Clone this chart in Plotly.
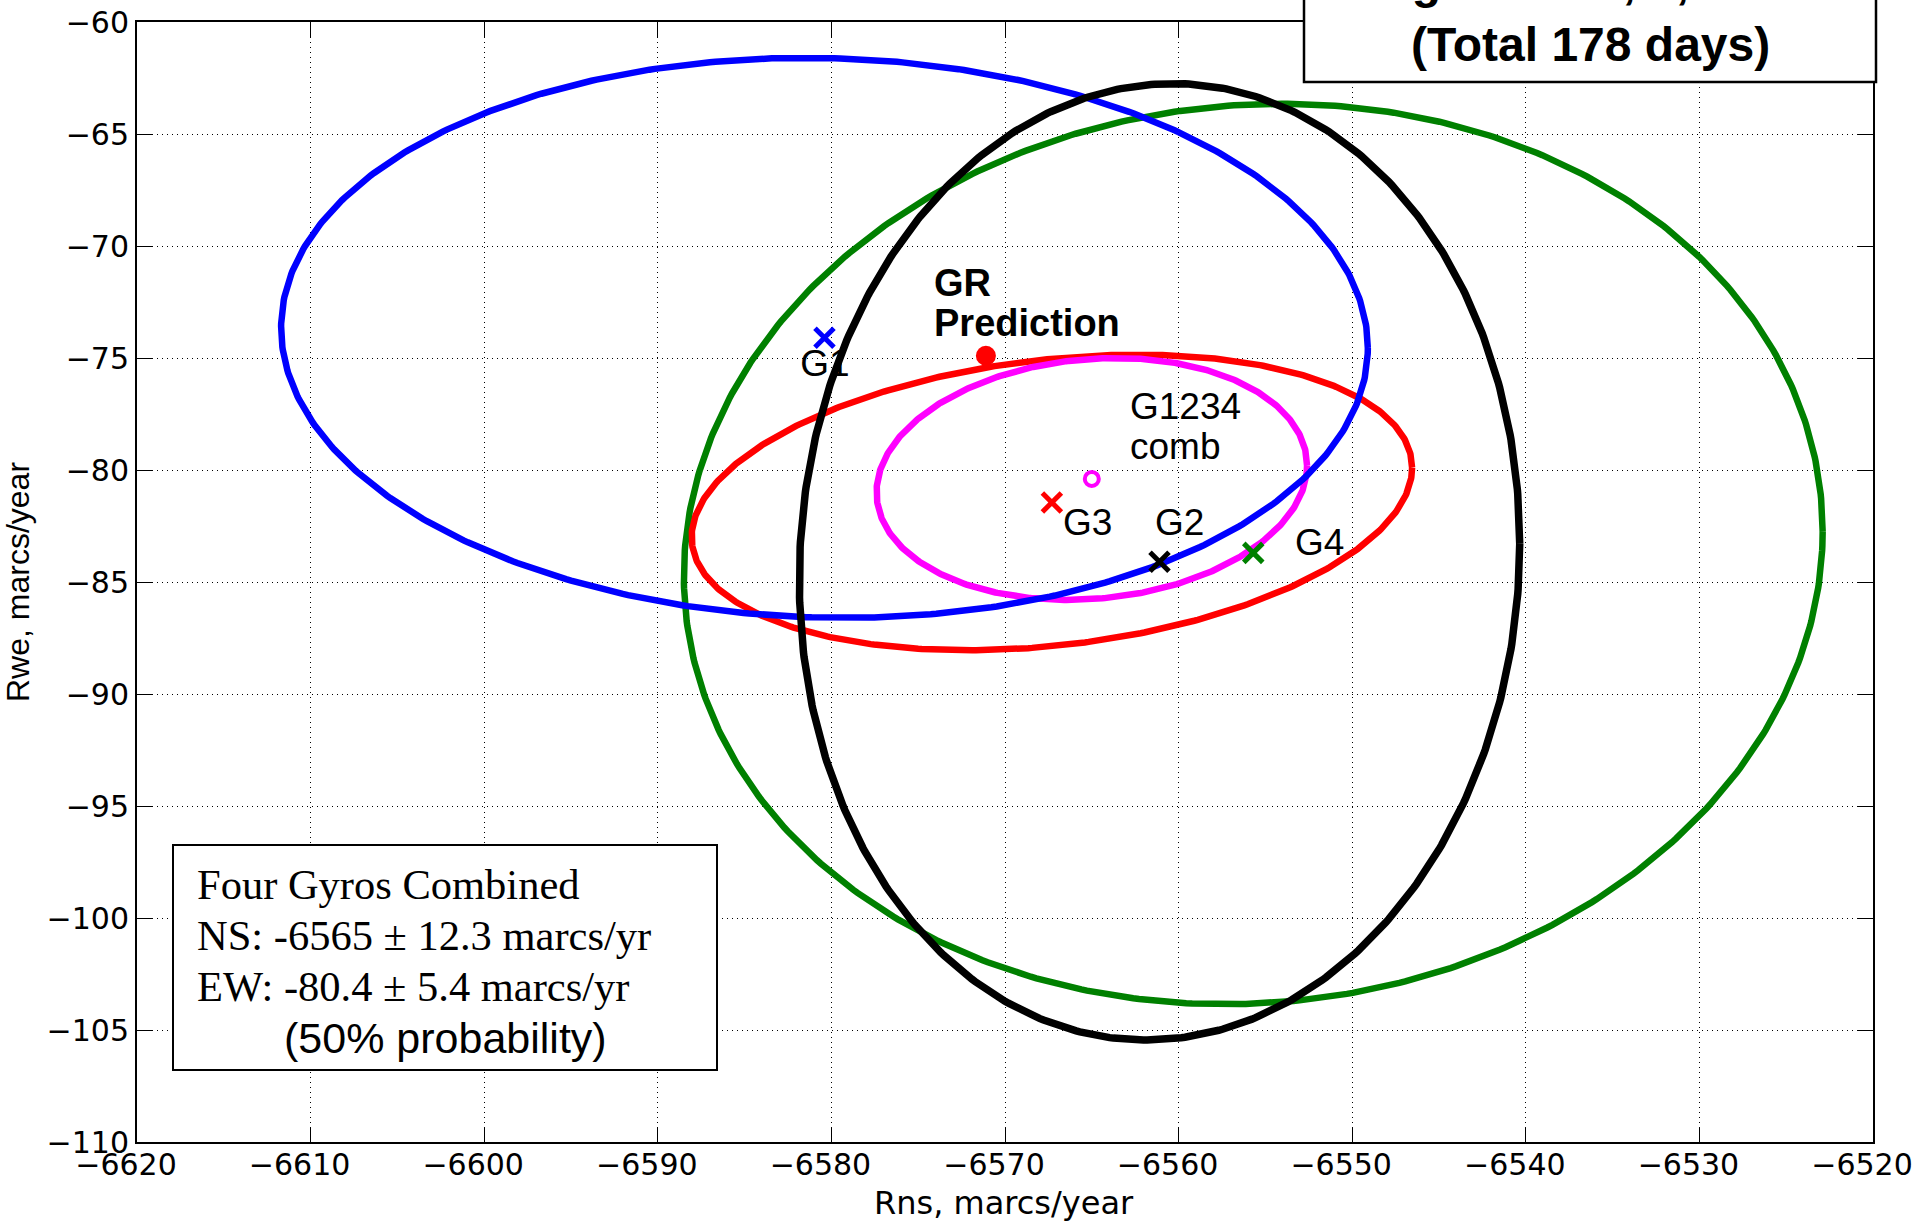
import numpy as np
import plotly.graph_objects as go

# ---- error ellipses (50% probability) ----
ell_names = ["G4", "G3", "G1234 comb", "G1", "G2"]
ell_colors = ["#008000", "#ff0000", "#ff00ff", "#0000ff", "#000000"]
ell_cx = [-6555.7, -6567.3, -6565.0, -6580.4, -6561.1]   # centre, Rns
ell_cy = [-83.75, -81.45, -80.4, -74.1, -84.1]           # centre, Rwe
ell_a = [32.8, 20.75, 12.4, 31.3, 20.75]                 # half extent in Rns
ell_h = [20.1, 6.6, 5.4, 12.5, 21.35]                    # half extent in Rwe
ell_k = [1.0, 1.55, 0.6, -0.45, 0.8]                     # Rwe offset at Rns extremes (tilt)

# ---- point estimates ----
gyro_labels = ["G1", "G2", "G3", "G4"]
gyro_ns = [-6580.4, -6561.1, -6567.3, -6555.7]
gyro_ew = [-74.1, -84.1, -81.45, -83.7]
gyro_colors = ["#0000ff", "#000000", "#ff0000", "#008000"]
comb_ns, comb_ew = -6565.0, -80.4
gr_ns, gr_ew = -6571.1, -74.9

x_ticks = list(range(-6620, -6519, 10))
y_ticks = list(range(-110, -59, 5))

FONT = "Liberation Sans, Arial, Helvetica, sans-serif"
SERIF = "Liberation Serif, Times New Roman, serif"
WIDE = "DejaVu Sans, Verdana, sans-serif"

# pixel geometry of the plot area
PX0, PX1, PY0, PY1 = 137, 1873, 22, 1142


def px(sx):
    return (sx - PX0) / (PX1 - PX0)


def py(sy):
    return (PY1 - sy) / (PY1 - PY0)


fig = go.Figure()
t = np.linspace(0, 2 * np.pi, 600)


def add_ellipse(i, width):
    b = np.sqrt(ell_h[i] ** 2 - ell_k[i] ** 2)
    x = ell_cx[i] + ell_a[i] * np.cos(t)
    y = ell_cy[i] + b * np.sin(t) + ell_k[i] * np.cos(t)
    fig.add_trace(go.Scatter(x=x, y=y, mode="lines", name=ell_names[i],
                             line=dict(color=ell_colors[i], width=width),
                             hoverinfo="skip", showlegend=False))


add_ellipse(0, 6.5)   # green
add_ellipse(1, 6.5)   # red
add_ellipse(2, 6.5)   # magenta
add_ellipse(3, 6.5)   # blue

LAB = 37
# G1 label sits under the black ellipse
fig.add_trace(go.Scatter(x=[-6581.8], y=[-75.38], mode="text", text=["G1"],
                         textposition="middle right",
                         textfont=dict(family=FONT, size=LAB, color="black"),
                         showlegend=False, hoverinfo="skip"))

add_ellipse(4, 7.5)   # black

# gyro X markers
for lab, xv, yv, c in zip(gyro_labels, gyro_ns, gyro_ew, gyro_colors):
    fig.add_trace(go.Scatter(x=[xv], y=[yv], mode="markers", name=lab,
                             marker=dict(symbol="x-thin", size=19, color=c,
                                         line=dict(color=c, width=5)),
                             showlegend=False))

# combined estimate
fig.add_trace(go.Scatter(x=[comb_ns], y=[comb_ew], mode="markers",
                         marker=dict(symbol="circle-open", size=14, color="#ff00ff",
                                     line=dict(color="#ff00ff", width=4)),
                         showlegend=False))
# GR prediction
fig.add_trace(go.Scatter(x=[gr_ns], y=[gr_ew], mode="markers",
                         marker=dict(symbol="circle", size=20, color="#ff0000"),
                         showlegend=False))

# ---- labels ----
lab_font = dict(family=FONT, size=LAB, color="black")
fig.add_annotation(x=-6574.2, y=-71.65, text="<b>GR</b>", showarrow=False,
                   xanchor="left", yanchor="middle",
                   font=dict(family=FONT, size=38, color="black"))
fig.add_annotation(x=-6574.2, y=-73.42, text="<b>Prediction</b>", showarrow=False,
                   xanchor="left", yanchor="middle",
                   font=dict(family=FONT, size=38, color="black"))
fig.add_annotation(x=-6562.9, y=-77.17, text="G1234", showarrow=False,
                   xanchor="left", yanchor="middle", font=lab_font)
fig.add_annotation(x=-6562.9, y=-78.97, text="comb", showarrow=False,
                   xanchor="left", yanchor="middle", font=lab_font)
fig.add_annotation(x=-6566.76, y=-82.35, text="G3", showarrow=False,
                   xanchor="left", yanchor="middle", font=lab_font)
fig.add_annotation(x=-6561.5, y=-82.35, text="G2", showarrow=False,
                   xanchor="left", yanchor="middle", font=lab_font)
fig.add_annotation(x=-6553.4, y=-83.23, text="G4", showarrow=False,
                   xanchor="left", yanchor="middle", font=lab_font)

# ---- info box (bottom left) ----
fig.add_shape(type="rect", xref="paper", yref="paper",
              x0=px(173), x1=px(717), y0=py(1070), y1=py(845),
              line=dict(color="black", width=2), fillcolor="white", layer="above")
box_lines = ["Four Gyros Combined", "NS: -6565 ± 12.3 marcs/yr", "EW: -80.4 ± 5.4 marcs/yr"]
box_py = [884, 935, 986]
for txt, sy in zip(box_lines, box_py):
    fig.add_annotation(xref="paper", yref="paper", x=px(195), y=py(sy), text=txt,
                       showarrow=False, xanchor="left", yanchor="middle",
                       font=dict(family=SERIF, size=42.5, color="black"))
fig.add_annotation(xref="paper", yref="paper", x=px(445), y=py(1038),
                   text="(50% probability)", showarrow=False,
                   xanchor="center", yanchor="middle",
                   font=dict(family=FONT, size=43, color="black"))

# ---- title box (top right) ----
fig.add_shape(type="rect", xref="paper", yref="paper",
              x0=px(1304), x1=px(1876), y0=py(82), y1=1.08,
              line=dict(color="black", width=2.5), fillcolor="white", layer="above")
fig.add_annotation(xref="paper", yref="paper", x=px(1590), y=py(-18),
                   text="<b>Segments 5, 6, and 9</b>", showarrow=False,
                   xanchor="center", yanchor="middle",
                   font=dict(family=FONT, size=48, color="black"))
fig.add_annotation(xref="paper", yref="paper", x=px(1590), y=py(44),
                   text="<b>(Total 178 days)</b>", showarrow=False,
                   xanchor="center", yanchor="middle",
                   font=dict(family=FONT, size=48, color="black"))

# ---- axis titles ----
fig.add_annotation(xref="paper", yref="paper", x=px(1004), y=py(1203),
                   text="Rns, marcs/year", showarrow=False,
                   xanchor="center", yanchor="middle",
                   font=dict(family=WIDE, size=32, color="black"))
fig.add_annotation(xref="paper", yref="paper", x=px(18), y=0.5,
                   text="Rwe, marcs/year", showarrow=False, textangle=-90,
                   xanchor="center", yanchor="middle",
                   font=dict(family=FONT, size=32, color="black"))

axis_common = dict(showgrid=True, gridcolor="black", gridwidth=1, griddash="1px,4px",
                   zeroline=False, showline=True, linecolor="black", linewidth=2,
                   mirror="allticks", ticks="inside", ticklen=15, tickwidth=1,
                   tickcolor="black", automargin=False, ticklabeloverflow="allow")
fig.update_xaxes(range=[-6620, -6520], tickvals=x_ticks,
                 ticktext=["\u2212" + str(-v) for v in x_ticks], ticklabelstandoff=-5,
                 ticklabelshift=-11,
                 tickfont=dict(family=WIDE, size=30, color="black"), **axis_common)
fig.update_yaxes(range=[-110, -60], tickvals=y_ticks,
                 ticktext=["\u2212" + str(-v) for v in y_ticks], ticklabelstandoff=0,
                 tickfont=dict(family=WIDE, size=30, color="black"), **axis_common)

fig.update_layout(width=1915, height=1227, autosize=False,
                  margin=dict(l=137, r=42, t=22, b=85, autoexpand=False),
                  paper_bgcolor="white", plot_bgcolor="white",
                  font=dict(family=FONT, color="black"), showlegend=False)

fig.write_html("out.html",
               config={"displayModeBar": False},
               post_script="document.body.style.margin='0px';"
                           "document.body.style.overflow='hidden';")
